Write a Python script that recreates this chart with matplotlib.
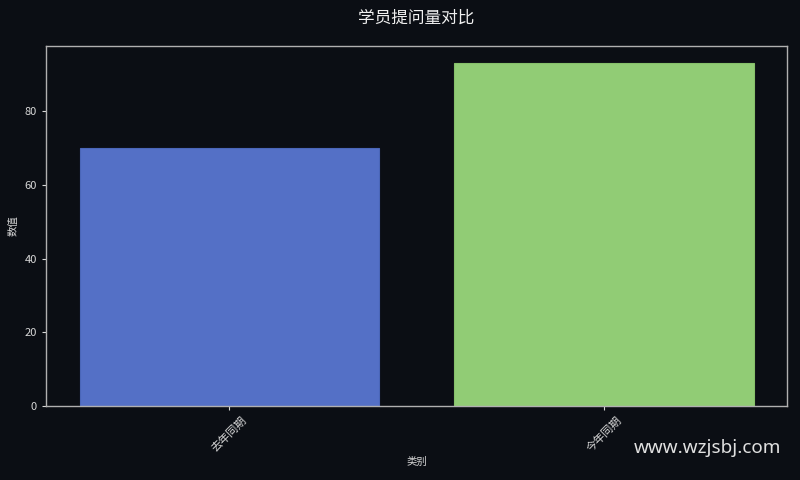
import matplotlib
matplotlib.use("Agg")
import matplotlib.pyplot as plt

plt.rcParams['font.family'] = ['Noto Sans CJK SC', 'DejaVu Sans']

categories = ["去年同期", "今年同期"]
values = [70, 93]
colors = ["#5470c6", "#91cc75"]
title = "学员提问量对比"

bg = "#0b0e14"
fg = "#d8d8d8"

fig = plt.figure(figsize=(8, 4.8), dpi=100, facecolor=bg)
ax = fig.add_axes([0.0575, 0.154, 0.9265, 0.75])
ax.set_facecolor(bg)

ax.bar(categories, values, width=0.8, color=colors, edgecolor=["#4a66b8", "#86c06a"], linewidth=0.8)

for s in ax.spines.values():
    s.set_color("#b0b0b0")
    s.set_linewidth(1.0)

ax.tick_params(colors=fg, labelsize=8, length=3)
for lab in ax.get_xticklabels():
    lab.set_rotation(45)
ax.set_xlabel("类别", color=fg, fontsize=7.5, labelpad=2)
ax.set_ylabel("数值", color=fg, fontsize=7.5)
fig.text(0.5207, 0.9625, title, color="#f0f0f0", fontsize=12, ha="center", va="center")

fig.text(0.976, 0.066, "www.wzjsbj.com", color="#e0e0e0", fontsize=13.6,
         ha="right", va="center", family=["Noto Sans", "DejaVu Sans"])

fig.savefig("out.png", dpi=100, facecolor=bg)
